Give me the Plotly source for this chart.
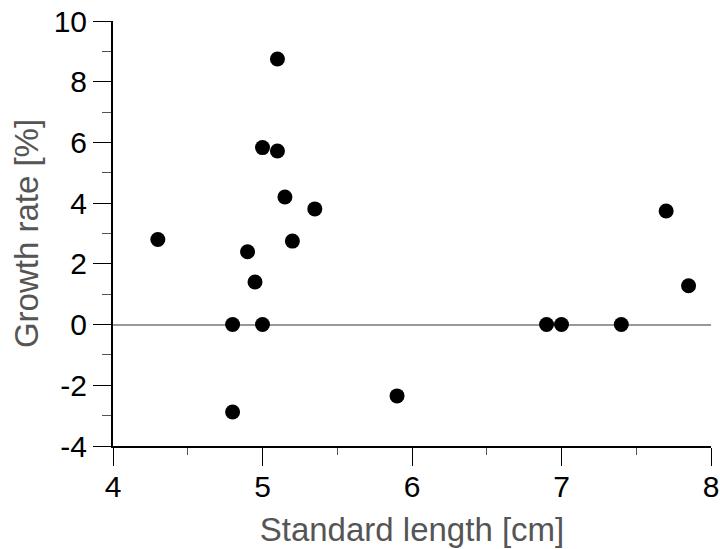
import plotly.graph_objects as go

length_cm = [4.30, 4.80, 4.80, 4.90, 4.95, 5.00, 5.00, 5.10, 5.10, 5.15, 5.20, 5.35, 5.90, 6.90, 7.00, 7.40, 7.70, 7.85]
growth_pct = [2.80, 0.00, -2.88, 2.40, 1.40, 0.00, 5.83, 5.72, 8.75, 4.20, 2.75, 3.81, -2.35, 0.00, 0.00, 0.00, 3.74, 1.28]

x_ticks = [4, 5, 6, 7, 8]
y_ticks = [-4, -2, 0, 2, 4, 6, 8, 10]

font_family = "Liberation Sans, Arial, Helvetica, sans-serif"

fig = go.Figure(
    go.Scatter(
        x=length_cm, y=growth_pct, mode="markers",
        marker=dict(size=15, color="black", line=dict(width=0)),
        showlegend=False, cliponaxis=False,
    )
)

fig.update_layout(
    width=720, height=549,
    margin=dict(l=113, r=9, t=21, b=103),
    plot_bgcolor="white", paper_bgcolor="white",
    font=dict(family=font_family, color="black"),
)

fig.update_xaxes(
    range=[4, 8], tickvals=x_ticks, ticktext=[str(v) for v in x_ticks],
    automargin=False, ticklabeloverflow="allow",
    showgrid=False, zeroline=False,
    showline=True, linecolor="black", linewidth=2,
    ticks="outside", ticklen=18, tickwidth=1.2, tickcolor="black",
    ticklabelstandoff=-5,
    tickfont=dict(size=30, color="black"),
    minor=dict(dtick=0.5, ticks="outside", ticklen=7, tickwidth=1, tickcolor="#555", showgrid=False),
    title=dict(text="Standard length [cm]", font=dict(size=33, color="#555555"), standoff=16),
)

fig.update_yaxes(
    range=[-4, 10], tickvals=y_ticks, ticktext=[str(v) for v in y_ticks],
    automargin=False, ticklabeloverflow="allow",
    showgrid=False,
    zeroline=True, zerolinecolor="#999999", zerolinewidth=2,
    showline=True, linecolor="black", linewidth=2,
    ticks="outside", ticklen=18, tickwidth=1.2, tickcolor="black",
    tickfont=dict(size=30, color="black"),
    minor=dict(dtick=1, ticks="outside", ticklen=9, tickwidth=1, tickcolor="#555", showgrid=False),
    title=dict(text="Growth rate [%]", font=dict(size=33, color="#555555"), standoff=5),
)

fig.write_html("out.html", config={"displayModeBar": False},
               post_script="document.body.style.margin='0';")
